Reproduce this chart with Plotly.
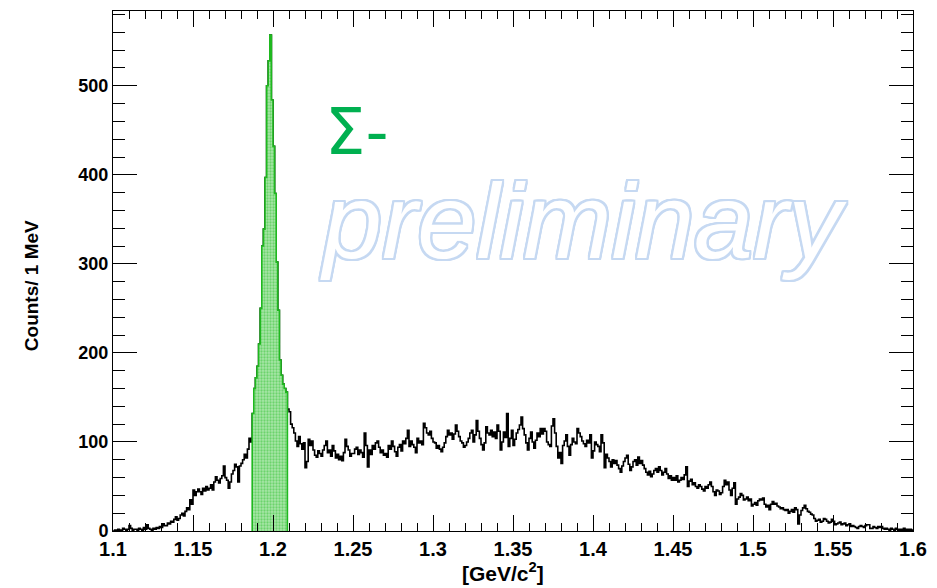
import plotly.graph_objects as go

# ---------------- data (counts per 1 MeV bin, 1.100 - 1.600 GeV/c^2) ----------------
x_start = 1.100
bin_width = 0.001

counts_1100_1150 = [0, 1, 0, 2, 1, 1, 3, 2, 1, 2, 6, 3, 1, 2, 2, 1, 3, 2, 1, 4, 2, 7, 3, 2, 1,
                    3, 2, 4, 3, 5, 4, 8, 6, 6, 9, 8, 11, 10, 13, 16, 12, 14, 18, 20, 17, 22, 26, 24, 35, 30]
counts_1150_1200 = [46, 40, 44, 47, 44, 41, 48, 45, 50, 46, 48, 52, 46, 55, 61, 57, 54, 59, 62, 73, 60, 57, 48, 55, 64,
                    68, 75, 72, 55, 73, 76, 80, 86, 82, 92, 104, 100,
                    132, 160, 172, 185, 210, 250, 320, 339, 397, 500, 528, 557, 484]
counts_1200_1250 = [432, 379, 302, 248, 192, 175, 165, 160, 156,
                    137, 134, 120, 116, 110, 101, 95, 106, 98, 92, 99, 71, 78, 103, 96, 101, 91, 85, 83, 90,
                    87, 84, 91, 96, 101, 88, 91, 84, 96, 90, 82, 86, 80, 84, 79, 88, 103, 95, 91, 84, 87]
counts_1250_1300 = [87, 92, 94, 86, 91, 88, 83, 110, 96, 72, 91, 86, 96, 92, 99, 101, 94, 88, 91, 85, 87, 83, 96, 92, 101,
                    95, 89, 84, 94, 97, 90, 101, 98, 104, 113, 95, 101, 97, 94, 88, 104, 99, 101, 97, 121, 116, 110, 108, 112, 104]
counts_1300_1350 = [100, 99, 93, 96, 92, 89, 94, 99, 106, 113, 108, 110, 103, 109, 119, 112, 106, 101, 99, 94, 96, 100, 104, 110, 113,
                    100, 108, 124, 112, 104, 97, 91, 99, 117, 110, 108, 113, 106, 111, 104, 119, 112, 91, 100, 111, 105, 132, 95, 104, 113]
counts_1350_1400 = [96, 103, 110, 114, 119, 128, 115, 108, 99, 91, 104, 111, 100, 93, 102, 110, 106, 115, 109, 115, 112, 100, 97, 95, 118,
                    126, 110, 95, 82, 88, 76, 96, 101, 108, 95, 85, 97, 104, 100, 98, 115, 110, 106, 101, 98, 95, 102, 99, 108, 82]
counts_1400_1450 = [90, 100, 97, 95, 89, 108, 99, 71, 86, 82, 78, 72, 80, 76, 79, 74, 70, 66, 73, 78, 82, 85, 75, 68, 72,
                    78, 80, 74, 83, 76, 79, 74, 70, 66, 63, 67, 61, 64, 68, 70, 66, 72, 68, 63, 66, 70, 64, 59, 62, 57]
counts_1450_1500 = [60, 57, 62, 55, 57, 60, 58, 63, 72, 50, 56, 58, 52, 54, 50, 48, 52, 50, 47, 45, 50, 48, 52, 55, 50,
                    44, 40, 46, 45, 41, 43, 50, 57, 52, 55, 46, 40, 48, 54, 30, 36, 38, 42, 40, 35, 36, 38, 34, 36, 28]
counts_1500_1550 = [30, 32, 29, 34, 36, 35, 37, 30, 27, 29, 24, 30, 33, 30, 31, 28, 27, 25, 26, 24, 23, 24, 20, 22, 24,
                    21, 26, 24, 8, 18, 23, 26, 29, 25, 22, 21, 19, 18, 14, 11, 12, 13, 10, 11, 14, 13, 11, 9, 10, 13]
counts_1550_1600 = [11, 7, 8, 9, 10, 7, 8, 9, 6, 7, 8, 5, 6, 5, 4, 3, 5, 6, 5, 4, 6, 7, 7, 3, 3,
                    5, 4, 3, 5, 4, 5, 3, 2, 3, 2, 1, 3, 2, 1, 3, 2, 1, 2, 1, 3, 1, 2, 1, 2, 1]

# signal window (bin indices, inclusive start / exclusive end)
signal_first_bin = 87
signal_end_bin = 109

x_tick_values = [1.1, 1.15, 1.2, 1.25, 1.3, 1.35, 1.4, 1.45, 1.5, 1.55, 1.6]
x_tick_labels = ["1.1", "1.15", "1.2", "1.25", "1.3", "1.35", "1.4", "1.45", "1.5", "1.55", "1.6"]
y_tick_values = [0, 100, 200, 300, 400, 500]
y_tick_labels = ["0", "100", "200", "300", "400", "500"]

x_title = "[GeV/c<sup>2</sup>]"
y_title = "Counts/ 1 MeV"
particle_label = "Σ-"
watermark = "preliminary"

# ---------------- build ----------------
counts = (counts_1100_1150 + counts_1150_1200 + counts_1200_1250 + counts_1250_1300 +
          counts_1300_1350 + counts_1350_1400 + counts_1400_1450 + counts_1450_1500 +
          counts_1500_1550 + counts_1550_1600)
n = len(counts)
edges = [round(x_start + i * bin_width, 4) for i in range(n + 1)]

hx = [edges[0]] + edges[:-1] + [edges[-1]]
hy = [0] + counts + [0]

sx = [edges[signal_first_bin]] + edges[signal_first_bin:signal_end_bin] + [edges[signal_end_bin]]
sy = [0] + counts[signal_first_bin:signal_end_bin] + [0]

W, H = 937, 588
L, R, T, B = 113, 17, 10, 57
pw, ph = W - L - R, H - T - B


def px(xp):
    return (xp - L) / pw


def py(yp):
    return (H - B - yp) / ph


fig = go.Figure()
fig.add_trace(go.Scatter(x=hx, y=hy, mode="lines", line=dict(color="black", width=1.6, shape="hv"),
                         hoverinfo="skip", showlegend=False))
fig.add_trace(go.Scatter(x=sx, y=sy, mode="lines", line=dict(color="#1fb81f", width=1.6, shape="hv"),
                         fill="tozeroy", fillcolor="#9fe29f",
                         fillpattern=dict(shape=".", fgcolor="#2fbf2f", bgcolor="#a8e6a8", size=3, solidity=0.45),
                         hoverinfo="skip", showlegend=False))

axis_common = dict(showline=True, linecolor="black", linewidth=1, mirror="ticks", ticks="inside",
                   tickcolor="black", tickwidth=1, showgrid=False, zeroline=False)

fig.update_xaxes(range=[1.1, 1.6], tickvals=x_tick_values, ticktext=x_tick_labels, ticklen=16,
                 tickfont=dict(family="Liberation Sans", size=20, color="black", weight="bold"),
                 minor=dict(dtick=0.01, ticks="inside", ticklen=8, tickcolor="black", tickwidth=1, showgrid=False),
                 **axis_common)
fig.update_yaxes(range=[0, 584], tickvals=y_tick_values, ticktext=y_tick_labels, ticklen=24,
                 tickfont=dict(family="Liberation Sans", size=18, color="black", weight="bold"),
                 minor=dict(dtick=20, ticks="inside", ticklen=12, tickcolor="black", tickwidth=1, showgrid=False),
                 **axis_common)

outline = "#c6d9f2"
shadow = ", ".join(f"{dx}px {dy}px 0 {outline}" for dx, dy in
                   [(2, 0), (-2, 0), (0, 2), (0, -2), (2, 2), (-2, -2), (2, -2), (-2, 2),
                    (1, 2), (2, 1), (-1, 2), (-2, 1), (1, -2), (2, -1), (-1, -2), (-2, -1)])

fig.update_layout(
    width=W, height=H, margin=dict(l=L, r=R, t=T, b=B),
    paper_bgcolor="white", plot_bgcolor="white",
    annotations=[
        dict(text=x_title, xref="paper", yref="paper", x=px(506), y=py(572), xanchor="center", yanchor="middle",
             showarrow=False, font=dict(family="Liberation Sans", size=21, color="black", weight="bold")),
        dict(text=y_title, xref="paper", yref="paper", x=px(31), y=py(285), xanchor="center", yanchor="middle",
             textangle=-90, showarrow=False,
             font=dict(family="Liberation Sans", size=19, color="black", weight="bold")),
        dict(text=particle_label, xref="paper", yref="paper", x=px(325), y=py(131), xanchor="left", yanchor="middle",
             showarrow=False, font=dict(family="DejaVu Sans", size=64, color="#00b050")),
        dict(text=watermark, xref="paper", yref="paper", x=px(320), y=py(220), xanchor="left", yanchor="middle",
             showarrow=False,
             font=dict(family="Liberation Sans", size=106, color="white", style="italic", shadow=shadow)),
    ],
)

fig.write_html("out.html", config={"displayModeBar": False})
